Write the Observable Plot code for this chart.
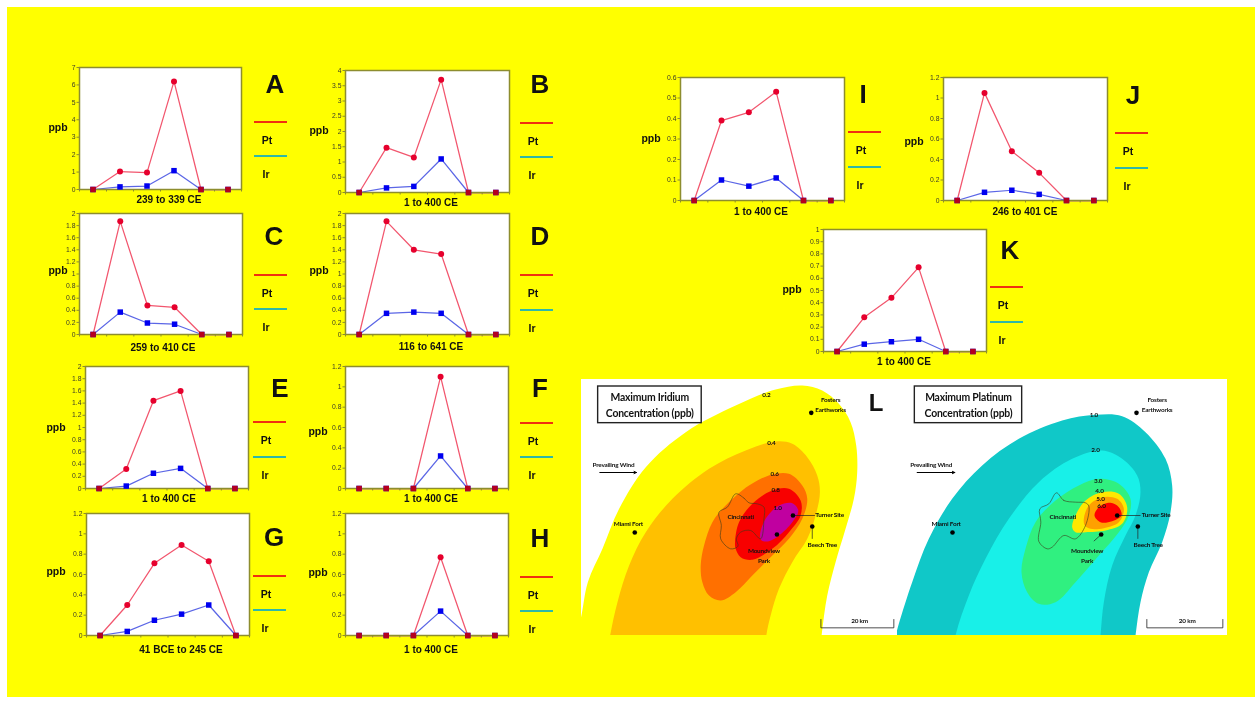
<!DOCTYPE html>
<html><head><meta charset="utf-8">
<script src="https://cdn.jsdelivr.net/npm/d3@7"></script>
<script src="https://cdn.jsdelivr.net/npm/@observablehq/plot@0.6"></script>
<style>
html,body{margin:0;padding:0;background:#fff;overflow:hidden}
#stage{position:relative;width:1258px;height:705px;background:#fff;font-family:"Liberation Sans",Arial,sans-serif;filter:blur(.55px)}
#bg{position:absolute;left:7px;top:7px;width:1248px;height:690px;background:#ffff00}
.t{position:absolute;transform:translate(-50%,-50%);white-space:nowrap;font-weight:700;color:#111;line-height:1}
.l{position:absolute;height:2px}
.holder{position:absolute}
.holder svg{display:block}
</style></head><body><div id="stage"><div id="bg"></div></div>
<script>
// ---- series values (ppb)
const steps=[0.5,1.5,2.5,3.5,4.5,5.5];
const ptA=[0,1.03,0.97,6.2,0,0], irA=[0,0.15,0.2,1.08,0,0];
const ptB=[0,1.47,1.15,3.7,0,0], irB=[0,0.15,0.2,1.1,0,0];
const ptC=[0,1.87,0.48,0.45,0,0], irC=[0,0.37,0.19,0.17,0,0];
const ptD=[0,1.87,1.4,1.33,0,0], irD=[0,0.35,0.37,0.35,0,0];
const ptE=[0,0.32,1.44,1.6,0,0], irE=[0,0.04,0.25,0.33,0,0];
const ptF=[0,0,0,1.1,0,0], irF=[0,0,0,0.32,0,0];
const ptG=[0,0.3,0.71,0.89,0.73,0], irG=[0,0.04,0.15,0.21,0.3,0];
const ptH=[0,0,0,0.77,0,0], irH=[0,0,0,0.24,0,0];
const ptI=[0,0.39,0.43,0.53,0,0], irI=[0,0.1,0.07,0.11,0,0];
const ptJ=[0,1.05,0.48,0.27,0,0], irJ=[0,0.08,0.1,0.06,0,0];
const ptK=[0,0.28,0.44,0.69,0,0], irK=[0,0.06,0.08,0.1,0,0];
// ---- tick labels
const t7=[0,1,2,3,4,5,6,7];
const t4=[0,0.5,1,1.5,2,2.5,3,3.5,4];
const t2=[0,0.2,0.4,0.6,0.8,1,1.2,1.4,1.6,1.8,2];
const t12=[0,0.2,0.4,0.6,0.8,1,1.2];
const t06=[0,0.1,0.2,0.3,0.4,0.5,0.6];
const t1=[0,0.1,0.2,0.3,0.4,0.5,0.6,0.7,0.8,0.9,1];
// ---- panel captions
const captions={A:"239 to 339 CE",B:"1 to 400 CE",C:"259 to 410 CE",D:"116 to 641 CE",E:"1 to 400 CE",F:"1 to 400 CE",G:"41 BCE to 245 CE",H:"1 to 400 CE",I:"1 to 400 CE",J:"246 to 401 CE",K:"1 to 400 CE"};
// ---- layout: box, letter, ppb, caption, legend
const layout=[
 {k:"A",pt:ptA,ir:irA,t:t7,box:[79,67,241,189],let:[275,84],ppb:[58,127],cap:[169,200],leg:[254,122,156]},
 {k:"B",pt:ptB,ir:irB,t:t4,box:[345,70,509,192],let:[540,84],ppb:[319,130],cap:[431,203],leg:[520,123,157]},
 {k:"C",pt:ptC,ir:irC,t:t2,box:[79,213,242,334],let:[274,236],ppb:[58,270],cap:[163,348],leg:[254,275,309]},
 {k:"D",pt:ptD,ir:irD,t:t2,box:[345,213,509,334],let:[540,236],ppb:[319,270],cap:[431,347],leg:[520,275,310]},
 {k:"E",pt:ptE,ir:irE,t:t2,box:[85,366,248,488],let:[280,388],ppb:[56,427],cap:[169,499],leg:[253,422,457]},
 {k:"F",pt:ptF,ir:irF,t:t12,box:[345,366,508,488],let:[540,388],ppb:[318,431],cap:[431,499],leg:[520,423,457]},
 {k:"G",pt:ptG,ir:irG,t:t12,box:[86,513,249,635],let:[274,537],ppb:[56,571],cap:[181,650],leg:[253,576,610]},
 {k:"H",pt:ptH,ir:irH,t:t12,box:[345,513,508,635],let:[540,538],ppb:[318,572],cap:[431,650],leg:[520,577,611]},
 {k:"I",pt:ptI,ir:irI,t:t06,box:[680,77,844,200],let:[863,94],ppb:[651,138],cap:[761,212],leg:[848,132,167]},
 {k:"J",pt:ptJ,ir:irJ,t:t12,box:[943,77,1107,200],let:[1133,95],ppb:[914,141],cap:[1025,212],leg:[1115,133,168]},
 {k:"K",pt:ptK,ir:irK,t:t1,box:[823,229,986,351],let:[1010,250],ppb:[792,289],cap:[904,362],leg:[990,287,322]}
];
const stage=document.getElementById("stage");
function label(txt,x,y,size,extra){const d=document.createElement("div");d.className="t";d.textContent=txt;d.style.left=x+"px";d.style.top=y+"px";d.style.fontSize=size+"px";if(extra)Object.assign(d.style,extra);stage.appendChild(d);}
function bar(x,y,w,c){const d=document.createElement("div");d.className="l";d.style.left=x+"px";d.style.top=(y-1)+"px";d.style.width=w+"px";d.style.background=c;stage.appendChild(d);}
function place(svg,x,y){const h=document.createElement("div");h.className="holder";h.style.left=x+"px";h.style.top=y+"px";h.appendChild(svg);stage.appendChild(h);}
const olive="#8d8d2e", PT="#f2566e", IR="#5b66e6";
for(const p of layout){
  const [x0,y0,x1,y1]=p.box;
  const ml=30,mt=6,mb=10,mr=2;
  const rows=a=>a.map((v,i)=>({x:steps[i],v}));
  const pts=rows(p.pt), irs=rows(p.ir);
  const both=pts.filter((d,i)=>d.v===0&&irs[i].v===0);
  const svg=Plot.plot({
    width:x1-x0+ml+mr,height:y1-y0+mt+mb,marginLeft:ml,marginRight:mr,marginTop:mt,marginBottom:mb,
    style:{background:"transparent",overflow:"visible",fontFamily:"'Liberation Sans',Arial,sans-serif"},
    x:{domain:[0,6],axis:null},
    y:{domain:[0,p.t[p.t.length-1]],axis:null},
    marks:[
      Plot.frame({fill:"#fff",stroke:"none"}),
      Plot.line(irs,{x:"x",y:"v",stroke:IR,strokeWidth:1.25}),
      Plot.line(pts,{x:"x",y:"v",stroke:PT,strokeWidth:1.25}),
      Plot.frame({stroke:olive,strokeWidth:1.5}),
      Plot.axisX({ticks:[0,1,2,3,4,5,6],tickFormat:()=>"",tickSize:2.5,stroke:olive,label:null}),
      Plot.axisY({ticks:p.t,tickFormat:d=>String(d),tickSize:2.5,tickPadding:1.5,stroke:olive,fill:"#3c3c28",fontSize:6.8,label:null}),
      Plot.dot(irs,{x:"x",y:"v",symbol:"square",r:3.1,fill:"#0000f0",stroke:"none"}),
      Plot.dot(pts.filter(d=>d.v!==0),{x:"x",y:"v",r:3,fill:"#e6002d",stroke:"none"}),
      Plot.dot(both,{x:"x",y:"v",symbol:"square",r:3.1,fill:"#b5001e",stroke:"none"})
    ]
  });
  place(svg,x0-ml,y0-mt);
  label(p.k,p.let[0],p.let[1],26);
  label("ppb",p.ppb[0],p.ppb[1],10.5);
  label(captions[p.k],p.cap[0],p.cap[1],10);
  const lx=p.leg[0],w=33;
  bar(lx,p.leg[1],w,"#f03010");
  bar(lx,p.leg[2],w,"#2fb8a8");
  label("Pt",lx+13,(p.leg[1]+18),10.5);
  label("Ir",lx+12,(p.leg[2]+18),10.5);
}
// ---- map contours, in map grid units
const irContour02=[[-60,900],[-20,800],[10,745],[36,620],[80,520],[130,400],[210,275],[330,170],[480,90],[600,42],[680,30],[740,45],[790,85],[825,140],[842,210],[845,290],[835,370],[810,460],[780,560],[755,660],[738,780],[725,900]];
const irContour04=[[85,900],[103,780],[125,680],[160,570],[210,470],[290,370],[400,280],[510,225],[600,198],[650,205],[695,245],[725,300],[733,350],[720,420],[695,490],[650,560],[610,640],[585,720],[572,780],[560,900]];
const irContour06=[[375,570],[385,510],[410,440],[450,390],[520,330],[590,297],[640,295],[680,330],[695,370],[680,430],[640,490],[590,540],[530,600],[480,650],[435,675],[400,660],[380,620]];
const irContour08=[[478,500],[490,440],[530,385],[590,345],[640,340],[675,375],[675,420],[640,470],[590,520],[530,553],[495,545],[480,520]];
const irContour10=[[553,480],[570,430],[610,390],[650,383],[668,405],[650,440],[610,480],[580,497],[558,495]];
const irCity=[[480,355],[505,368],[520,382],[545,385],[565,395],[565,430],[555,490],[525,465],[495,470],[482,490],[487,512],[465,520],[435,490],[437,450],[430,410],[455,395]];
const ptContour1=[[-40,900],[-5,800],[10,745],[50,620],[100,490],[170,370],[260,270],[370,190],[500,135],[600,118],[680,122],[750,170],[810,250],[830,330],[825,410],[800,500],[760,590],[735,680],[720,780],[705,900]];
const ptContour2=[[160,900],[180,780],[220,660],[270,550],[340,430],[430,320],[530,250],[620,225],[680,250],[725,300],[735,350],[720,420],[690,480],[650,570],[625,680],[615,780],[605,900]];
const ptContour3=[[378,590],[390,520],[420,440],[480,375],[550,330],[610,310],[670,325],[705,370],[700,420],[670,470],[610,540],[540,620],[480,680],[430,685],[395,650]];
const ptContour4=[[530,455],[540,420],[570,375],[620,350],[670,355],[695,395],[680,445],[630,465],[570,470],[540,470]];
const ptContour5=[[565,430],[580,390],[620,365],[665,370],[685,400],[670,440],[625,458],[585,460],[568,450]];
const ptContour6=[[597,420],[610,395],[645,382],[670,395],[678,420],[650,437],[615,440]];
const ptCity=[[483,352],[505,375],[540,380],[570,382],[580,392],[570,450],[540,490],[505,480],[470,515],[455,520],[430,498],[436,440],[433,400],[460,385]];
// ---- map places and labels
const irPlaces=[[707,112],[177,471],[652,420],[604,477],[710,453]];
const ptPlaces=[[723,112],[171,471],[665,420],[617,477],[727,453]];
const irLabels=[["0.2",572,58],["Fosters",765,72],["Earthworks",765,102],["0.4",587,202],["0.6",597,295],["0.8",600,343],["1.0",606,397],["Prevailing Wind",113,267],["Miami Fort",158,446],["Cincinnati",495,424],["Turner Site",762,418],["Beech Tree",740,508],["Moundview",565,527],["Park",565,556],["20 km",852,735]];
const ptLabels=[["1.0",595,117],["Fosters",785,72],["Earthworks",785,102],["2.0",600,222],["3.0",608,315],["4.0",612,346],["5.0",615,369],["6.0",618,390],["Prevailing Wind",107,267],["Miami Fort",152,446],["Cincinnati",502,424],["Turner Site",782,418],["Beech Tree",758,508],["Moundview",575,527],["Park",575,556],["20 km",875,737]];
function map(cfg){
  const fills=cfg.contours.map(([c,col])=>Plot.line(c.map(([x,y])=>({x,y})),{x:"x",y:"y",fill:col,stroke:"none",curve:"catmull-rom-closed",clip:true}));
  const xy=a=>a.map(([x,y])=>({x,y}));
  const svg=Plot.plot({
    width:Math.round((cfg.dx[1]-cfg.dx[0])/3),height:256,margin:0,
    style:{background:"#fff",overflow:"hidden",fontFamily:"Lato,'Liberation Sans',sans-serif",letterSpacing:"-0.2px"},
    x:{domain:cfg.dx,axis:null},y:{domain:[780,12],axis:null},
    marks:[
      ...fills,
      Plot.line(xy(cfg.city),{x:"x",y:"y",stroke:"#3a3a1a",strokeWidth:.6,curve:"catmull-rom-closed",fill:"none"}),
      Plot.link(cfg.leaders,{x1:d=>d[0],y1:d=>d[1],x2:d=>d[2],y2:d=>d[3],stroke:"#222",strokeWidth:.7}),
      Plot.dot(xy(cfg.places),{x:"x",y:"y",r:2.3,fill:"#000"}),
      Plot.arrow([cfg.wind],{x1:d=>d[0],y1:d=>d[1],x2:d=>d[2],y2:d=>d[1],stroke:"#000",strokeWidth:1,headLength:4,headAngle:50}),
      Plot.line(xy(cfg.scale),{x:"x",y:"y",stroke:"#222",strokeWidth:.8}),
      Plot.text(cfg.labels,{x:d=>d[1],y:d=>d[2],text:d=>d[0],fontSize:6.4,fontWeight:700,fill:"#111"}),
      Plot.rect([cfg.box],{x1:d=>d[0],x2:d=>d[2],y1:d=>d[1],y2:d=>d[3],fill:"#fff",stroke:"#222",strokeWidth:1.4}),
      Plot.text(cfg.title,{x:cfg.tx,y:d=>d[1],text:d=>d[0],fontSize:10.4,fontWeight:700,fill:"#111"})
    ]
  });
  place(svg,cfg.left,379);
}
map({left:581,dx:[17,966],contours:[[irContour02,"#ffff00"],[irContour04,"#ffc000"],[irContour06,"#ff7000"],[irContour08,"#f80000"],[irContour10,"#c000a0"]],
  city:irCity,places:irPlaces,labels:irLabels,leaders:[[652,420,718,420],[710,453,710,490]],wind:[72,291,182],scale:[[736,732],[736,757],[955,757],[955,732]],
  box:[67,33,378,143],tx:222,title:[["Maximum Iridium",67],["Concentration (ppb)",114]]});
map({left:897,dx:[6,996],contours:[[ptContour1,"#10c8c8"],[ptContour2,"#18f0e8"],[ptContour3,"#30f080"],[ptContour4,"#ffe800"],[ptContour5,"#ffa000"],[ptContour6,"#ff0000"]],
  city:ptCity,places:ptPlaces,labels:ptLabels,leaders:[[665,420,735,420],[727,453,727,490],[617,477,595,497]],wind:[65,291,178],scale:[[754,732],[754,757],[982,757],[982,732]],
  box:[58,33,380,143],tx:219,title:[["Maximum Platinum",67],["Concentration (ppb)",114]]});
label("L",876,403,24);
</script></body></html>
